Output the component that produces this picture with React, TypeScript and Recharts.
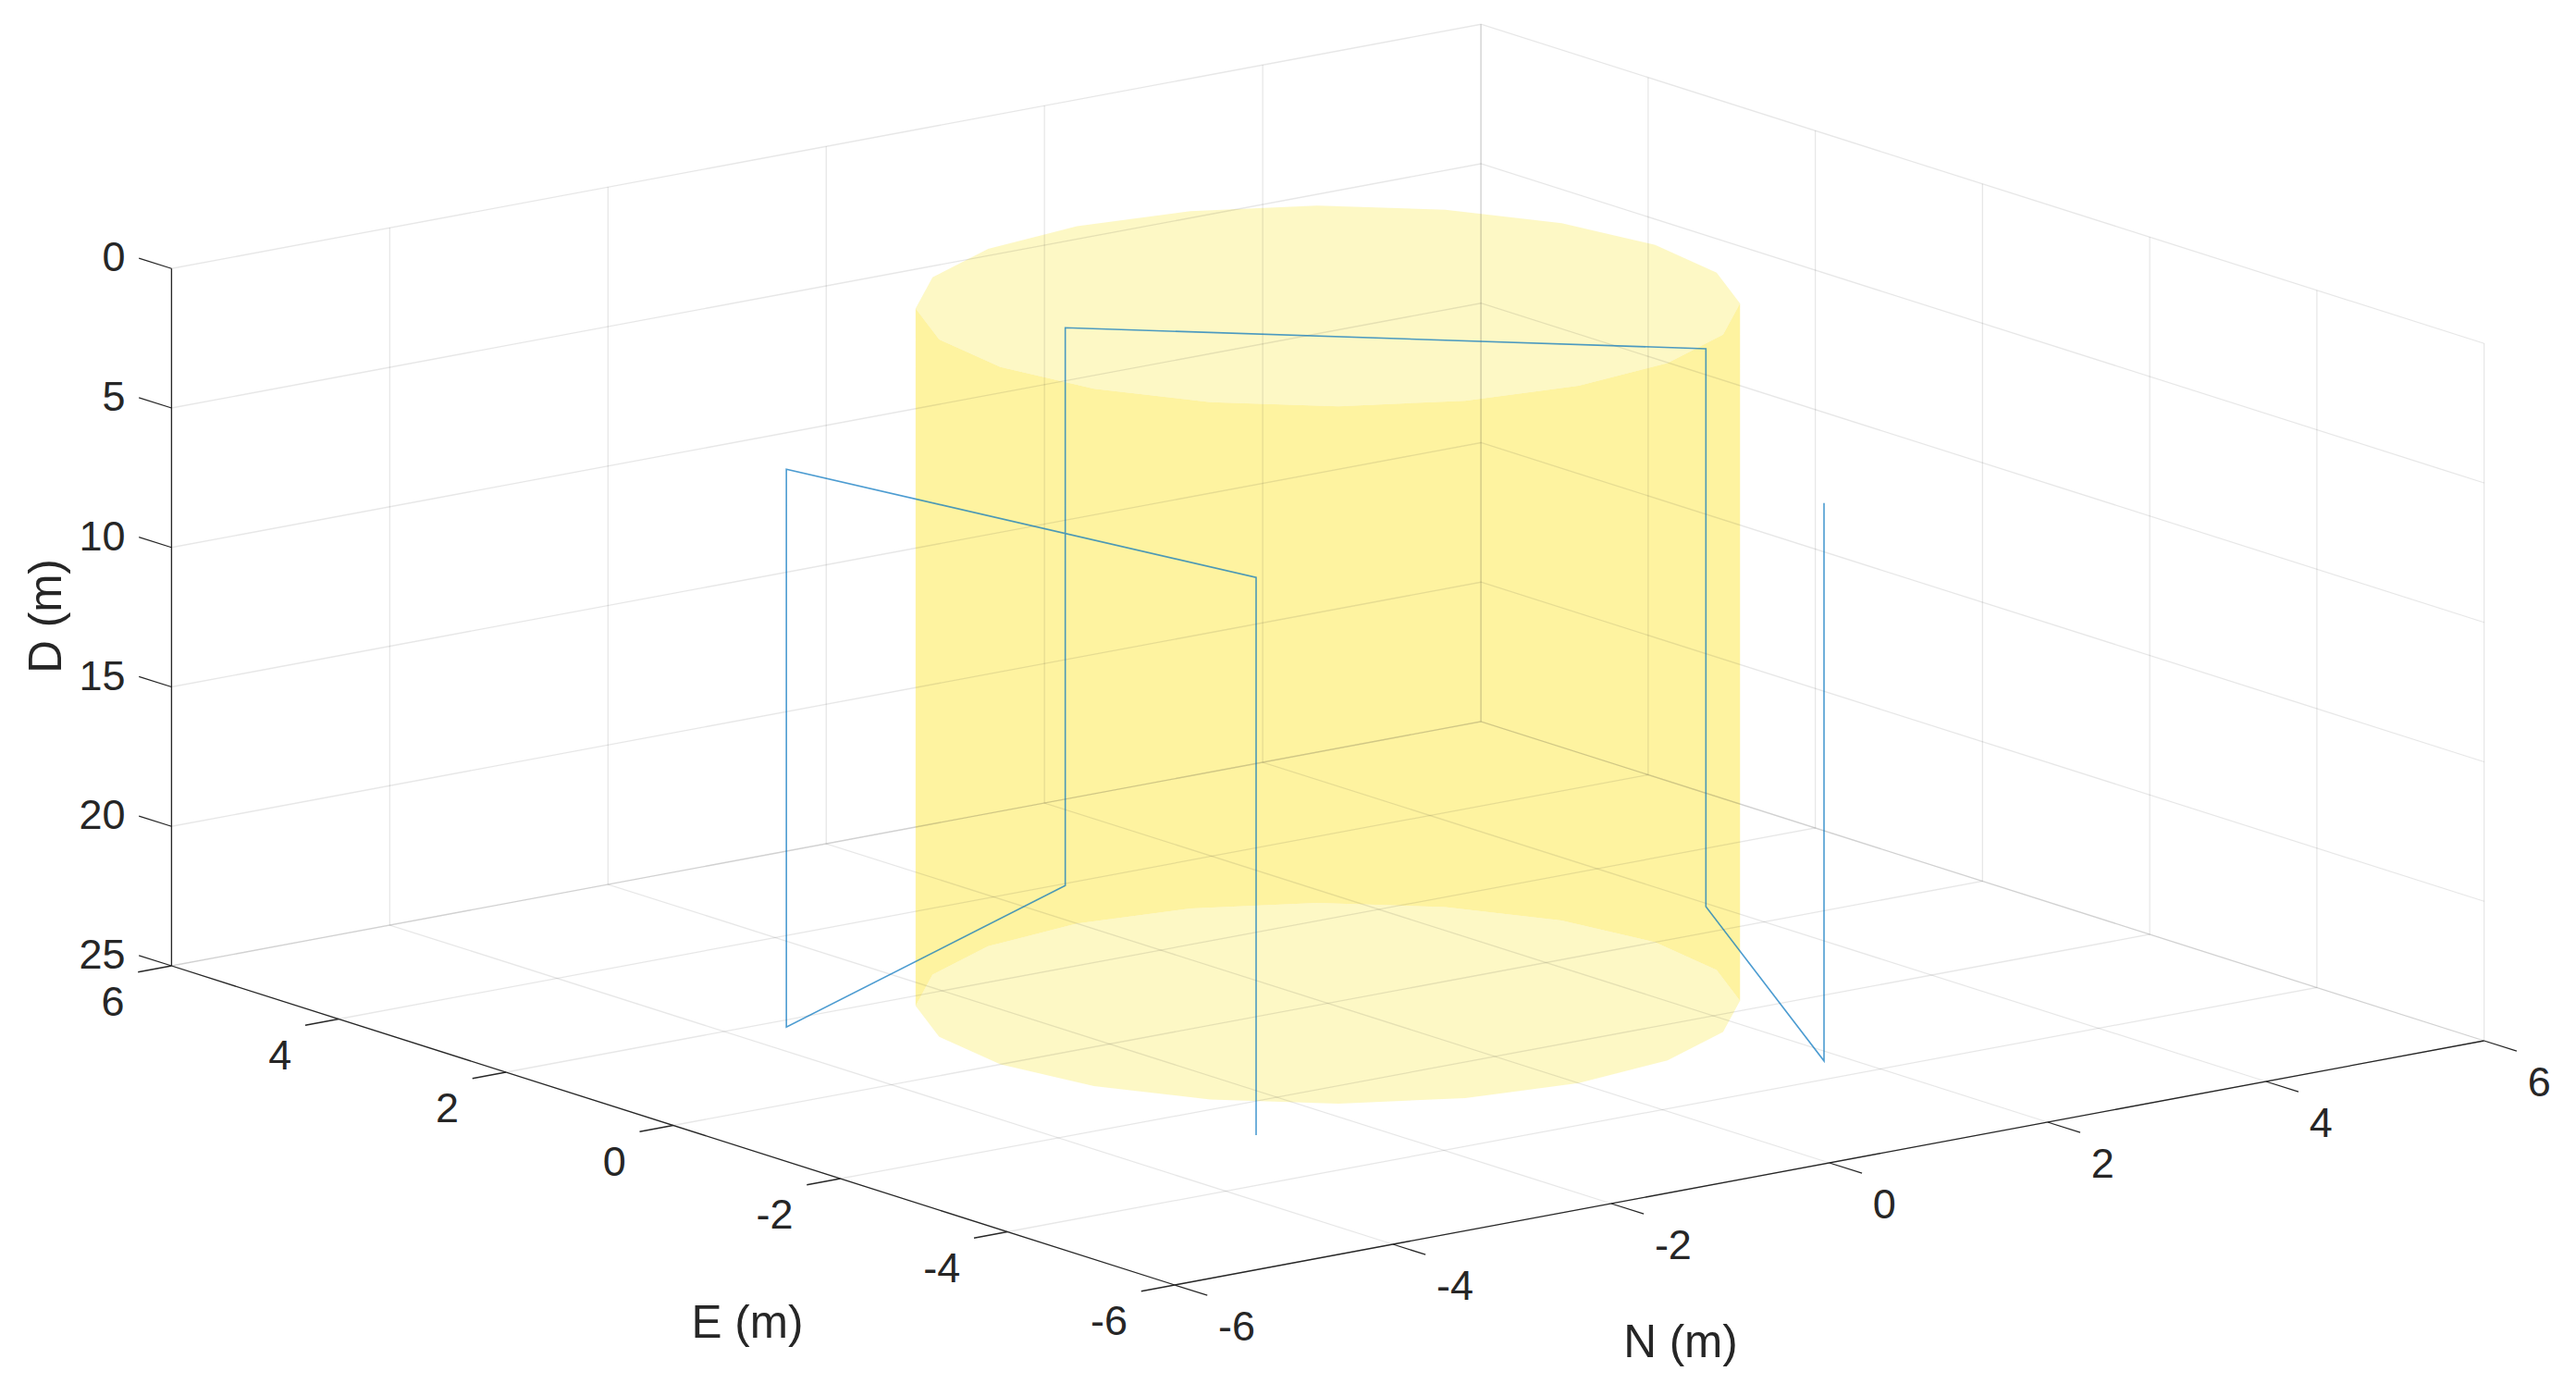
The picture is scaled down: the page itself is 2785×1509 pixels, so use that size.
import { Area, ComposedChart, Line, Scatter, XAxis, YAxis } from "recharts"

const WIDTH = 2785
const HEIGHT = 1509

// axis ticks (metres)
const nTicks = [-6, -4, -2, 0, 2, 4, 6]
const eTicks = [-6, -4, -2, 0, 2, 4, 6]
const dTicks = [0, 5, 10, 15, 20, 25]

// flight path
const pathN = [-2.81, -2.81, -3.56, -3.56, 0.62, 0.62, 3.94, 3.94, 1.82, 1.82]
const pathE = [-2.81, -2.81, 1.83, 1.83, 3.95, 3.95, 0.62, 0.62, -3.56, -3.56]
const pathD = [25, 5, 5, 25, 25, 5, 5, 25, 25, 5]

// cylinder rim, 20 facets, radius 3
const rimN = [3, 2.853, 2.427, 1.763, 0.927, 0, -0.927, -1.763, -2.427, -2.853, -3, -2.853, -2.427, -1.763, -0.927, 0, 0.927, 1.763, 2.427, 2.853]
const rimE = [0, 0.927, 1.763, 2.427, 2.853, 3, 2.853, 2.427, 1.763, 0.927, 0, -0.927, -1.763, -2.427, -2.853, -3, -2.853, -2.427, -1.763, -0.927]
const cylinderTop = 0
const cylinderBottom = 25
const frontRim = [8, 9, 10, 11, 12, 13, 14, 15, 16, 17, 18]
const backRim = [18, 19, 0, 1, 2, 3, 4, 5, 6, 7, 8]
const fullRim = [0, 1, 2, 3, 4, 5, 6, 7, 8, 9, 10, 11, 12, 13, 14, 15, 16, 17, 18, 19, 0]

const INK = "#262626"
const FONT = "'Liberation Sans', Arial, sans-serif"

// orthographic view of the N/E/D box onto the page
const project = (n: number, e: number, d: number) => ({
  x: 1270 + (n + 6) * 117.97 + (e + 6) * -90.38,
  y: 1389 + (n + 6) * -22 + (e + 6) * -28.75 + (d - 25) * 30.15,
})

const line = (pts: number[][]) => pts.map(([n, e, d]) => project(n, e, d))

const gridLines = [
  ...dTicks.map((d) => line([[-6, 6, d], [6, 6, d], [6, -6, d]])),
  ...nTicks.map((n) => line([[n, -6, 25], [n, 6, 25], [n, 6, 0]])),
  ...eTicks.map((e) => line([[-6, e, 25], [6, e, 25], [6, e, 0]])),
]

const axisLines = [
  line([[-6, 6, 0], [-6, 6, 25]]),
  line([[-6, 6, 25], [-6, -6, 25]]),
  line([[-6, -6, 25], [6, -6, 25]]),
  ...dTicks.map((d) => line([[-6, 6, d], [-6, 6.39, d]])),
  ...eTicks.map((e) => line([[-6, e, 25], [-6.307, e, 25]])),
  ...nTicks.map((n) => line([[n, -6, 25], [n, -6.39, 25]])),
]

const rim = (idx: number[], d: number) => idx.map((i) => project(rimN[i], rimE[i], d))
const bodyPolygon = [...rim(frontRim, cylinderTop), ...rim(backRim, cylinderBottom), project(rimN[8], rimE[8], cylinderTop)]
const topCap = rim(fullRim, cylinderTop)
const bottomCap = rim(fullRim, cylinderBottom)

const flightPath = pathN.map((n, i) => project(n, pathE[i], pathD[i]))

type Lab = { x: number; y: number; label: string; anchor: string; size: number; rotate?: number }

const tickLabels: Lab[] = [
  ...dTicks.map((d) => {
    const p = project(-6, 6, d)
    return { x: p.x - 50, y: p.y - 13, label: String(d), anchor: "end", size: 45 }
  }),
  ...eTicks.map((e) => {
    const p = project(-6, e, 25)
    return { x: p.x - 51, y: p.y + 38, label: String(e), anchor: "end", size: 45 }
  }),
  ...nTicks.map((n) => {
    const p = project(n, -6, 25)
    return { x: p.x + 47, y: p.y + 44, label: String(n), anchor: "start", size: 45 }
  }),
]

const titleLabels: Lab[] = [
  { x: 48, y: 666, label: "D (m)", anchor: "middle", size: 49.5, rotate: -90 },
  { x: 808, y: 1428, label: "E (m)", anchor: "middle", size: 49.5 },
  { x: 1817, y: 1449, label: "N (m)", anchor: "middle", size: 49.5 },
]

function AxisText(props: any) {
  const { cx, cy, payload } = props
  return (
    <text
      x={cx}
      y={cy}
      dy="0.36em"
      textAnchor={payload.anchor}
      fontFamily={FONT}
      fontSize={payload.size}
      fill={INK}
      transform={payload.rotate ? `rotate(${payload.rotate} ${cx} ${cy})` : undefined}
    >
      {payload.label}
    </text>
  )
}

export default function App() {
  return (
    <div style={{ position: "absolute", left: 0, top: 0, width: WIDTH, height: HEIGHT, background: "#fff" }}>
      <ComposedChart width={WIDTH} height={HEIGHT} margin={{ top: 0, right: 0, bottom: 0, left: 0 }}>
        <XAxis dataKey="x" type="number" domain={[0, WIDTH]} hide allowDuplicatedCategory />
        <YAxis dataKey="y" type="number" domain={[0, HEIGHT]} reversed hide />
        {gridLines.map((pts, i) => (
          <Line key={`grid-${i}`} data={pts} dataKey="y" stroke={INK} strokeOpacity={0.11} strokeWidth={1.3} dot={false} activeDot={false} isAnimationActive={false} />
        ))}
        <Area data={bodyPolygon} dataKey="y" type="linear" stroke="none" fill="#fde741" fillOpacity={0.5} isAnimationActive={false} />
        <Area data={topCap} dataKey="y" type="linear" stroke="none" fill="#fcf18c" fillOpacity={0.5} isAnimationActive={false} />
        <Area data={bottomCap} dataKey="y" type="linear" stroke="none" fill="#fcf18c" fillOpacity={0.5} isAnimationActive={false} />
        {axisLines.map((pts, i) => (
          <Line key={`axis-${i}`} data={pts} dataKey="y" stroke={INK} strokeWidth={1.3} dot={false} activeDot={false} isAnimationActive={false} />
        ))}
        <Line data={flightPath} dataKey="y" stroke="#0072BD" strokeOpacity={0.7} strokeWidth={1.6} dot={false} activeDot={false} isAnimationActive={false} />
        <Scatter data={[...tickLabels, ...titleLabels]} dataKey="y" shape={AxisText} isAnimationActive={false} />
      </ComposedChart>
    </div>
  )
}
